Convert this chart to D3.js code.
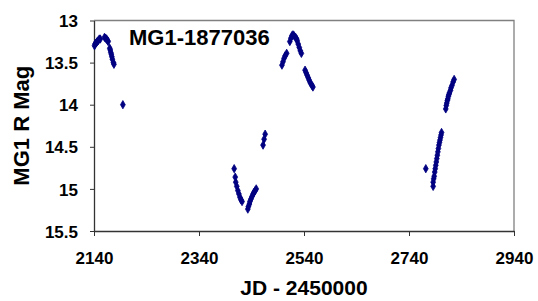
<!DOCTYPE html>
<html>
<head>
<meta charset="utf-8">
<script src="https://cdn.jsdelivr.net/npm/d3@7"></script>
<style>
  html, body { margin: 0; padding: 0; background: #ffffff; }
  text { font-family: "Liberation Sans", Arial, sans-serif; font-weight: bold; fill: #000; }
</style>
</head>
<body>
<div id="chart"></div>
<script>
// Données
const chartTitle = "MG1-1877036";
const xTicks = [2140, 2340, 2540, 2740, 2940];
const yTicks = [13, 13.5, 14, 14.5, 15, 15.5];

// JD - 2450000
const jd = [
  2141, 2142, 2143, 2145, 2146, 2148, 2150, 2152, 2160, 2162, 2164, 2166, 2167,
  2170, 2171, 2172, 2173, 2174, 2175, 2177, 2178, 2195,
  2407, 2409, 2410, 2412, 2414, 2416, 2418, 2420, 2422,
  2433, 2434, 2436, 2437, 2439, 2441, 2443, 2445, 2447, 2449,
  2462, 2464, 2466,
  2498, 2500, 2502, 2504, 2507,
  2513, 2515, 2517, 2519, 2521, 2524, 2526,
  2527, 2529, 2531, 2533, 2535,
  2542, 2544, 2546, 2548, 2550, 2552, 2555, 2557,
  2772,
  2786, 2786, 2787, 2788, 2789, 2790, 2791, 2792, 2793, 2794, 2795, 2796, 2797,
  2798, 2799, 2800, 2801, 2802,
  2810, 2811, 2812, 2813, 2814, 2815, 2816, 2817, 2819, 2820, 2822, 2824, 2826
];

// Magnitude R
const mag = [
  13.30, 13.28, 13.27, 13.26, 13.25, 13.24, 13.22, 13.22, 13.20, 13.21, 13.22, 13.24, 13.25,
  13.33, 13.35, 13.38, 13.40, 13.43, 13.46, 13.50, 13.52, 14.00,
  14.76, 14.86, 14.92, 14.97, 15.02, 15.06, 15.10, 15.13, 15.15,
  15.24, 15.21, 15.18, 15.15, 15.12, 15.09, 15.06, 15.04, 15.02, 15.00,
  14.48, 14.41, 14.35,
  13.53, 13.49, 13.45, 13.42, 13.39,
  13.25, 13.21, 13.18, 13.17, 13.18, 13.20, 13.22,
  13.24, 13.28, 13.32, 13.36, 13.39,
  13.59, 13.62, 13.65, 13.68, 13.71, 13.74, 13.77, 13.79,
  14.76,
  14.97, 14.92, 14.88, 14.85, 14.80, 14.76, 14.72, 14.68, 14.64, 14.60, 14.56, 14.52, 14.48,
  14.45, 14.42, 14.39, 14.36, 14.33,
  14.05, 14.01, 13.98, 13.95, 13.93, 13.90, 13.88, 13.86, 13.83, 13.80, 13.77, 13.73, 13.70
];

const points = jd.map((d, i) => ({ jd: d, mag: mag[i] }));

//---------------------------------------------------------------------------------------

// Canevas
const width = 538;
const height = 301;
const margin = { top: 20.5, right: 24, bottom: 70, left: 94 };

const svg = d3.select("#chart")
  .append("svg")
  .attr("width", width)
  .attr("height", height);

// Échelles
const x = d3.scaleLinear()
  .domain([2140, 2940])
  .range([margin.left, width - margin.right]);

const y = d3.scaleLinear()
  .domain([13, 15.5])
  .range([margin.top, height - margin.bottom]);

// Cadre gris (haut et droite)
svg.append("path")
  .attr("d", `M${x(2140)},${y(13)} H${x(2940)} V${y(15.5)}`)
  .attr("fill", "none")
  .attr("stroke", "#808080")
  .attr("stroke-width", 1.3);

// Axe X
const xAxis = svg.append("g")
  .attr("transform", `translate(0, ${y(15.5)})`)
  .call(d3.axisBottom(x).tickValues(xTicks).tickSize(5).tickSizeOuter(0).tickFormat(d3.format("d")));

xAxis.select(".domain").attr("stroke", "#333").attr("stroke-width", 1.3);
xAxis.selectAll(".tick line").attr("stroke", "#333");
xAxis.selectAll(".tick text")
  .attr("font-size", "17px")
  .attr("dy", "0")
  .attr("y", 33);

// Axe Y
const yAxis = svg.append("g")
  .attr("transform", `translate(${x(2140)}, 0)`)
  .call(d3.axisLeft(y).tickValues(yTicks).tickSize(4).tickSizeOuter(0).tickFormat(d => d));

yAxis.select(".domain").attr("stroke", "#333").attr("stroke-width", 1.3);
yAxis.selectAll(".tick line").attr("stroke", "#333");
yAxis.selectAll(".tick text")
  .attr("font-size", "17px")
  .attr("x", -16)
  .attr("dy", "0.36em");

// Points
svg.append("g")
  .selectAll("path")
  .data(points)
  .join("path")
  .attr("transform", d => `translate(${x(d.jd)}, ${y(d.mag)})`)
  .attr("d", d3.symbol().type(d3.symbolDiamond).size(20))
  .attr("fill", "#000080")
  .attr("stroke", "#000080")
  .attr("stroke-width", 0.8);

// Titre
svg.append("text")
  .attr("x", 129)
  .attr("y", 45)
  .attr("font-size", "22px")
  .text(chartTitle);

// Titres des axes
svg.append("text")
  .attr("x", (x(2140) + x(2940)) / 2)
  .attr("y", 295)
  .attr("text-anchor", "middle")
  .attr("font-size", "21px")
  .text("JD - 2450000");

svg.append("text")
  .attr("transform", `translate(29, ${(y(13) + y(15.5)) / 2}) rotate(-90)`)
  .attr("text-anchor", "middle")
  .attr("font-size", "22px")
  .text("MG1 R Mag");
</script>
</body>
</html>
